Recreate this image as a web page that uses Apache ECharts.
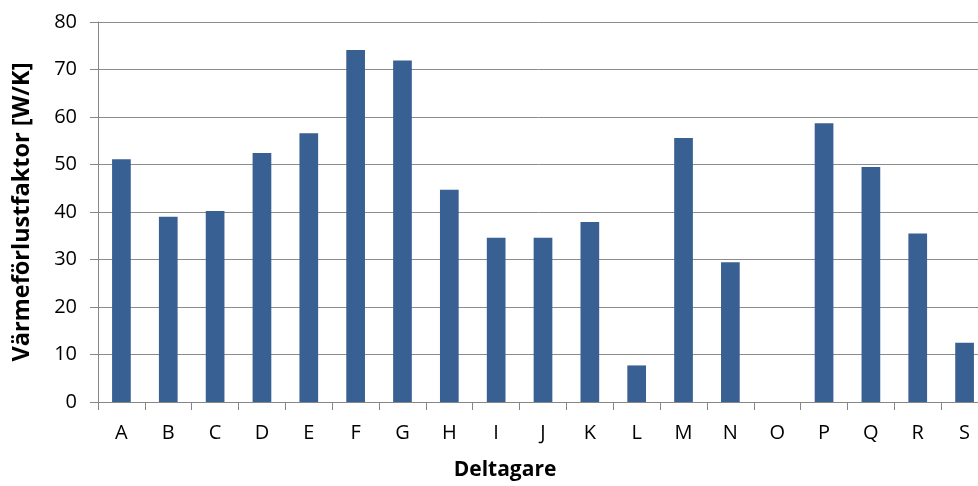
<!DOCTYPE html>
<html>
<head>
<meta charset="utf-8">
<script src="https://cdn.jsdelivr.net/npm/echarts@6/dist/echarts.min.js"></script>
<style>
html,body{margin:0;padding:0;background:#fff;}
#chart{width:978px;height:486px;}
</style>
</head>
<body>
<div id="chart"></div>
<script>
const categories = ['A','B','C','D','E','F','G','H','I','J','K','L','M','N','O','P','Q','R','S'];
const values = [51.1, 39.0, 40.2, 52.4, 56.6, 74.1, 71.9, 44.7, 34.6, 34.6, 37.9, 7.7, 55.6, 29.4, 0, 58.7, 49.5, 35.5, 12.5];
const yTicks = {min: 0, max: 80, interval: 10};
const xTitle = 'Deltagare';
const yTitle = 'Värmeförlustfaktor [W/K]';

const font = '"Open Sans", "Noto Sans", sans-serif';
const chart = echarts.init(document.getElementById('chart'), null, {renderer: 'canvas'});
chart.setOption({
  animation: false,
  backgroundColor: '#ffffff',
  grid: {left: 98, top: 22, width: 890, bottom: 84, containLabel: false, outerBoundsMode: 'none'},
  xAxis: {
    type: 'category',
    data: categories,
    name: xTitle,
    nameLocation: 'middle',
    nameGap: 58,
    nameTextStyle: {fontFamily: font, fontWeight: 'bold', fontSize: 21, color: '#000', padding: [0, 76, 0, 0]},
    axisLine: {lineStyle: {color: '#868686', width: 1}},
    axisTick: {show: true, length: 8, lineStyle: {color: '#868686'}},
    axisLabel: {fontFamily: font, fontSize: 20, color: '#000', margin: 21, interval: 0}
  },
  yAxis: {
    type: 'value',
    min: yTicks.min, max: yTicks.max, interval: yTicks.interval,
    name: yTitle,
    nameLocation: 'middle',
    nameGap: 64,
    nameRotate: 90,
    nameTextStyle: {fontFamily: font, fontWeight: 'bold', fontSize: 23.5, color: '#000'},
    axisLine: {show: true, lineStyle: {color: '#868686', width: 1}},
    axisTick: {show: true, length: 8, lineStyle: {color: '#868686'}},
    axisLabel: {fontFamily: font, fontSize: 20, color: '#000', margin: 21},
    splitLine: {lineStyle: {color: '#8c8c8c', width: 1}}
  },
  series: [{
    type: 'bar',
    data: values,
    barWidth: 18.7,
    itemStyle: {color: '#386092'}
  }]
});
</script>
</body>
</html>
